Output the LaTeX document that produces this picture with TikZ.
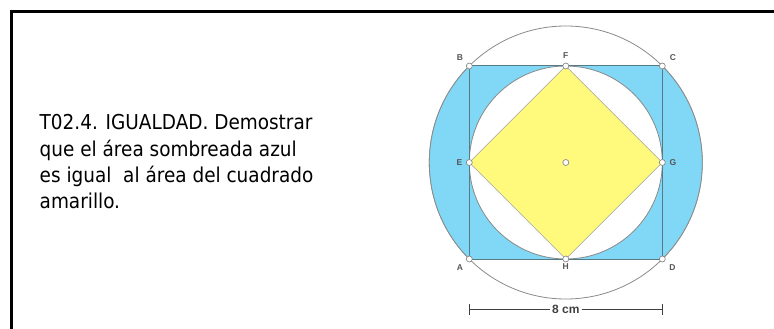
\documentclass[tikz,border=0pt]{standalone}
\usepackage{fontspec}
\usetikzlibrary{calc}
\setmainfont{DejaVu Sans}[FakeStretch=0.9]
\newfontfamily\lblfont{Liberation Sans}
\definecolor{bluefill}{HTML}{80D8F6}
\definecolor{yellowfill}{HTML}{FFF97C}
\definecolor{sqline}{HTML}{587A84}
\definecolor{circline}{HTML}{8A8A8A}
\definecolor{lblgray}{HTML}{555555}
\tikzset{
  frameline/.style={line width=3pt},
  ptmark/.style={circle,draw=circline,fill=white,line width=0.7pt,inner sep=0pt,minimum size=6pt},
  ptlbl/.style={font=\lblfont\fontsize{8.5}{9}\selectfont\bfseries,text=lblgray,inner sep=0pt},
  dimline/.style={draw=black!75,line width=1pt},
}
\begin{document}
\begin{tikzpicture}[x=1pt,y=-1pt]
\useasboundingbox (0,0) rectangle (774,329);
% frame
\draw[frameline] (11.5,340) -- (11.5,11.5) -- (790,11.5);
% text
\node[anchor=north west,align=left,inner sep=0pt,font=\fontsize{20.5}{26.3}\selectfont] (txt) at (39.5,114.3)
{T02.4. IGUALDAD. Demostrar\\que el área sombreada azul\\es igual \ al área del cuadrado\\amarillo.};
% geometry
\coordinate (O) at (565.8,162.5);
\coordinate (A) at (469.3,259);
\coordinate (B) at (469.3,66);
\coordinate (C) at (662.3,66);
\coordinate (D) at (662.3,259);
\coordinate (E) at (469.3,162.5);
\coordinate (F) at (565.8,66);
\coordinate (G) at (662.3,162.5);
\coordinate (H) at (565.8,259);
% outer circle
\draw[circline,line width=0.8pt] (O) circle[radius=136.5];
% blue region
\fill[bluefill,even odd rule] (A) arc[start angle=135,end angle=225,radius=136.5] -- (C)
  arc[start angle=-45,end angle=45,radius=136.5] -- cycle
  (O) circle[radius=96.5];
\draw[circline,line width=0.8pt] (A) arc[start angle=135,end angle=225,radius=136.5];
\draw[circline,line width=0.8pt] (C) arc[start angle=-45,end angle=45,radius=136.5];
% inner circle
\draw[circline,line width=0.8pt] (O) circle[radius=96.5];
% yellow square
\filldraw[fill=yellowfill,draw=circline!80,line width=0.6pt] (E) -- (F) -- (G) -- (H) -- cycle;
% square ABCD
\draw[sqline,line width=1pt] (A) -- (B) -- (C) -- (D) -- cycle;
% point marks
\foreach \p in {A,B,C,D,E,F,G,H,O} \node[ptmark] (m\p) at (\p) {};
% labels
\node[ptlbl] (lA) at (460,267.5) {A};
\node[ptlbl] (lB) at (460,57.5) {B};
\node[ptlbl] (lC) at (673,57.5) {C};
\node[ptlbl] (lD) at (672.5,267.5) {D};
\node[ptlbl] (lE) at (459.5,162.5) {E};
\node[ptlbl] (lF) at (565.8,55.5) {F};
\node[ptlbl] (lG) at (673,162.5) {G};
\node[ptlbl] (lH) at (565.8,267) {H};
% dimension
\node[font=\lblfont\fontsize{12}{14}\selectfont\bfseries,text=black!75,inner sep=2pt] (dim) at (565.8,309.5) {8 cm};
\coordinate (d1) at (469.3,309.5);
\coordinate (d2) at (662.3,309.5);
\draw[dimline] (d1) -- (dim.west);
\draw[dimline] (dim.east) -- (d2);
\draw[dimline] ($(d1)+(0,-5.5)$) -- ($(d1)+(0,5.5)$);
\draw[dimline] ($(d2)+(0,-5.5)$) -- ($(d2)+(0,5.5)$);
\end{tikzpicture}
\end{document}
